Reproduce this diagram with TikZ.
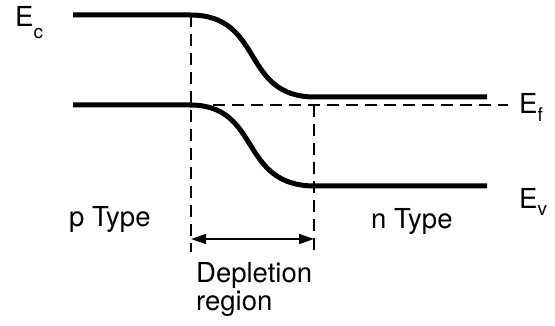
\documentclass[tikz,border=0pt]{standalone}
\usepackage{fontspec}
\setmainfont{TeX Gyre Heros}
\usetikzlibrary{arrows.meta}
\newcommand{\lbl}[2]{E\raisebox{-#2}{\fontsize{19}{19}\selectfont #1}}
\begin{document}
\begin{tikzpicture}[x=1pt,y=-1pt,
  band/.style={line width=5pt},
  guide/.style={line width=1.8pt,dash pattern=on 12pt off 7pt},
  txt/.style={inner sep=0pt,anchor=base west,font=\fontsize{27.5}{33}\selectfont},
  dim/.style={line width=1.6pt,{Triangle[length=15pt,width=10pt]}-{Triangle[length=15pt,width=10pt]}}]
\useasboundingbox (0,0) rectangle (555,326);
% coordinates
\coordinate (c0) at (73,15);
\coordinate (c1) at (190,15);
\coordinate (c2) at (315,97);
\coordinate (c3) at (487,97);
\coordinate (v0) at (73,105);
\coordinate (v1) at (190,105);
\coordinate (v2) at (315,186);
\coordinate (v3) at (487,186);
\coordinate (f0) at (213,105);
\coordinate (f1) at (508,105);
\coordinate (l0) at (191,15);
\coordinate (l1) at (191,252);
\coordinate (r0) at (314,105);
\coordinate (r1) at (314,252);
\coordinate (a0) at (191,239);
\coordinate (a1) at (314,239);
% bands
\draw[band] (c0) -- (c1) .. controls (265,15) and (240,97) .. (c2) -- (c3);
\draw[band] (v0) -- (v1) .. controls (262,105) and (238,186) .. (v2) -- (v3);
% guides
\draw[guide] (f0) -- (f1);
\draw[guide] (l0) -- (l1);
\draw[guide] (r0) -- (r1);
\draw[dim] (a0) -- (a1);
% labels
\node[txt] (ec) at (15,27) {\lbl{c}{12pt}};
\node[txt] (ef) at (519,114) {\lbl{f}{8pt}};
\node[txt] (ev) at (519,209) {\lbl{v}{7pt}};
\node[txt] (pt) at (69,227) {p Type};
\node[txt] (nt) at (371,229) {n Type};
\node[txt] (dp) at (196,283) {Depletion};
\node[txt] (rg) at (196,311) {region};
\end{tikzpicture}
\end{document}
